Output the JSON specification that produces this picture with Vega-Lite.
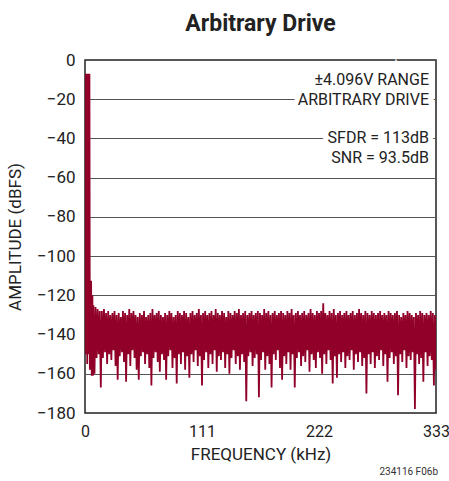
{
  "$schema": "https://vega.github.io/schema/vega-lite/v6.json",
  "width": 351,
  "height": 353,
  "autosize": "none",
  "padding": {"left": 85, "top": 60, "right": 13, "bottom": 68},
  "background": "white",
  "title": {
    "text": "Arbitrary Drive",
    "font": "Roboto",
    "fontSize": 23,
    "fontWeight": "bold",
    "color": "#222",
    "anchor": "middle",
    "offset": 15
  },
  "config": {
    "view": {"stroke": "#222", "strokeWidth": 1.5},
    "font": "Roboto"
  },
  "datasets": {
    "spec": [
      {"f": 0, "a": -7}, {"f": 0.7, "a": -150}, {"f": 1.4, "a": -7}, {"f": 2.1, "a": -155},
      {"f": 2.8, "a": -7}, {"f": 3.5, "a": -150}, {"f": 4.2, "a": -7}, {"f": 4.6, "a": -158},
      {"f": 5.3, "a": -113}, {"f": 5.8, "a": -113}, {"f": 6.4, "a": -161},
      {"f": 7, "a": -120}, {"f": 7.5, "a": -161},
      {"f": 8, "a": -125}, {"f": 9, "a": -160}, {"f": 10, "a": -126}, {"f": 11, "a": -152},
      {"f": 12, "a": -127}, {"f": 13, "a": -150}, {"f": 14, "a": -128}, {"f": 15, "a": -167},
      {"f": 16, "a": -128}, {"f": 17, "a": -152}, {"f": 18, "a": -127}, {"f": 19, "a": -149},
      {"f": 20, "a": -129}, {"f": 21, "a": -155}, {"f": 22, "a": -128}, {"f": 23, "a": -150},
      {"f": 24, "a": -130}, {"f": 25, "a": -153}, {"f": 26, "a": -129}, {"f": 27, "a": -148},
      {"f": 28, "a": -128}, {"f": 29, "a": -156}, {"f": 30, "a": -130}, {"f": 31, "a": -163},
      {"f": 32, "a": -129}, {"f": 33, "a": -151}, {"f": 34, "a": -131}, {"f": 35, "a": -149},
      {"f": 36, "a": -128}, {"f": 37, "a": -154}, {"f": 38, "a": -129}, {"f": 39, "a": -164},
      {"f": 40, "a": -130}, {"f": 41, "a": -150}, {"f": 42, "a": -127}, {"f": 43, "a": -156},
      {"f": 44, "a": -129}, {"f": 45, "a": -148}, {"f": 46, "a": -128}, {"f": 47, "a": -152},
      {"f": 48, "a": -130}, {"f": 49, "a": -158}, {"f": 50, "a": -131}, {"f": 51, "a": -163},
      {"f": 52, "a": -129}, {"f": 53, "a": -151}, {"f": 54, "a": -130}, {"f": 55, "a": -149},
      {"f": 56, "a": -128}, {"f": 57, "a": -155}, {"f": 58, "a": -131}, {"f": 59, "a": -150},
      {"f": 60, "a": -130}, {"f": 61, "a": -157}, {"f": 62, "a": -129}, {"f": 63, "a": -166},
      {"f": 64, "a": -127}, {"f": 65, "a": -152}, {"f": 66, "a": -130}, {"f": 67, "a": -149},
      {"f": 68, "a": -129}, {"f": 69, "a": -154}, {"f": 70, "a": -128}, {"f": 71, "a": -159},
      {"f": 72, "a": -130}, {"f": 73, "a": -150}, {"f": 74, "a": -131}, {"f": 75, "a": -153},
      {"f": 76, "a": -129}, {"f": 77, "a": -163}, {"f": 78, "a": -130}, {"f": 79, "a": -151},
      {"f": 80, "a": -128}, {"f": 81, "a": -148}, {"f": 82, "a": -129}, {"f": 83, "a": -157},
      {"f": 84, "a": -131}, {"f": 85, "a": -152}, {"f": 86, "a": -130}, {"f": 87, "a": -165},
      {"f": 88, "a": -128}, {"f": 89, "a": -150}, {"f": 90, "a": -129}, {"f": 91, "a": -155},
      {"f": 92, "a": -130}, {"f": 93, "a": -149}, {"f": 94, "a": -128}, {"f": 95, "a": -158},
      {"f": 96, "a": -129}, {"f": 97, "a": -151}, {"f": 98, "a": -131}, {"f": 99, "a": -162},
      {"f": 100, "a": -129}, {"f": 101, "a": -150}, {"f": 102, "a": -128}, {"f": 103, "a": -154},
      {"f": 104, "a": -130}, {"f": 105, "a": -148}, {"f": 106, "a": -129}, {"f": 107, "a": -156},
      {"f": 108, "a": -127}, {"f": 109, "a": -151}, {"f": 110, "a": -130}, {"f": 111, "a": -166},
      {"f": 112, "a": -129}, {"f": 113, "a": -153}, {"f": 114, "a": -128}, {"f": 115, "a": -149},
      {"f": 116, "a": -130}, {"f": 117, "a": -157}, {"f": 118, "a": -129}, {"f": 119, "a": -150},
      {"f": 120, "a": -128}, {"f": 121, "a": -155}, {"f": 122, "a": -130}, {"f": 123, "a": -148},
      {"f": 124, "a": -127}, {"f": 125, "a": -159}, {"f": 126, "a": -129}, {"f": 127, "a": -151},
      {"f": 128, "a": -130}, {"f": 129, "a": -153}, {"f": 130, "a": -128}, {"f": 131, "a": -149},
      {"f": 132, "a": -129}, {"f": 133, "a": -157}, {"f": 134, "a": -131}, {"f": 135, "a": -150},
      {"f": 136, "a": -128}, {"f": 137, "a": -160}, {"f": 138, "a": -129}, {"f": 139, "a": -152},
      {"f": 140, "a": -130}, {"f": 141, "a": -148}, {"f": 142, "a": -128}, {"f": 143, "a": -155},
      {"f": 144, "a": -129}, {"f": 145, "a": -151}, {"f": 146, "a": -127}, {"f": 147, "a": -158},
      {"f": 148, "a": -130}, {"f": 149, "a": -150}, {"f": 150, "a": -129}, {"f": 151, "a": -154},
      {"f": 152, "a": -128}, {"f": 153, "a": -174}, {"f": 154, "a": -130}, {"f": 155, "a": -151},
      {"f": 156, "a": -129}, {"f": 157, "a": -149}, {"f": 158, "a": -128}, {"f": 159, "a": -156},
      {"f": 160, "a": -130}, {"f": 161, "a": -152}, {"f": 162, "a": -129}, {"f": 163, "a": -150},
      {"f": 164, "a": -128}, {"f": 165, "a": -172}, {"f": 166, "a": -129}, {"f": 167, "a": -153},
      {"f": 168, "a": -130}, {"f": 169, "a": -149}, {"f": 170, "a": -127}, {"f": 171, "a": -158},
      {"f": 172, "a": -129}, {"f": 173, "a": -151}, {"f": 174, "a": -128}, {"f": 175, "a": -155},
      {"f": 176, "a": -130}, {"f": 177, "a": -167}, {"f": 178, "a": -129}, {"f": 179, "a": -150},
      {"f": 180, "a": -128}, {"f": 181, "a": -153}, {"f": 182, "a": -130}, {"f": 183, "a": -148},
      {"f": 184, "a": -129}, {"f": 185, "a": -157}, {"f": 186, "a": -128}, {"f": 187, "a": -163},
      {"f": 188, "a": -129}, {"f": 189, "a": -151}, {"f": 190, "a": -130}, {"f": 191, "a": -155},
      {"f": 192, "a": -128}, {"f": 193, "a": -149}, {"f": 194, "a": -129}, {"f": 195, "a": -158},
      {"f": 196, "a": -127}, {"f": 197, "a": -150}, {"f": 198, "a": -130}, {"f": 199, "a": -167},
      {"f": 200, "a": -129}, {"f": 201, "a": -152}, {"f": 202, "a": -128}, {"f": 203, "a": -149},
      {"f": 204, "a": -130}, {"f": 205, "a": -156}, {"f": 206, "a": -129}, {"f": 207, "a": -151},
      {"f": 208, "a": -128}, {"f": 209, "a": -154}, {"f": 210, "a": -130}, {"f": 211, "a": -148},
      {"f": 212, "a": -129}, {"f": 213, "a": -159}, {"f": 214, "a": -127}, {"f": 215, "a": -150},
      {"f": 216, "a": -129}, {"f": 217, "a": -153}, {"f": 218, "a": -130}, {"f": 219, "a": -157},
      {"f": 220, "a": -128}, {"f": 221, "a": -149}, {"f": 222, "a": -129}, {"f": 223, "a": -152},
      {"f": 224, "a": -128}, {"f": 225, "a": -160}, {"f": 226, "a": -124}, {"f": 227, "a": -150},
      {"f": 228, "a": -129}, {"f": 229, "a": -155}, {"f": 230, "a": -130}, {"f": 231, "a": -148},
      {"f": 232, "a": -128}, {"f": 233, "a": -153}, {"f": 234, "a": -129}, {"f": 235, "a": -165},
      {"f": 236, "a": -127}, {"f": 237, "a": -151}, {"f": 238, "a": -130}, {"f": 239, "a": -162},
      {"f": 240, "a": -129}, {"f": 241, "a": -150}, {"f": 242, "a": -128}, {"f": 243, "a": -154},
      {"f": 244, "a": -130}, {"f": 245, "a": -149}, {"f": 246, "a": -129}, {"f": 247, "a": -157},
      {"f": 248, "a": -128}, {"f": 249, "a": -151}, {"f": 250, "a": -130}, {"f": 251, "a": -153},
      {"f": 252, "a": -129}, {"f": 253, "a": -148}, {"f": 254, "a": -128}, {"f": 255, "a": -158},
      {"f": 256, "a": -130}, {"f": 257, "a": -150}, {"f": 258, "a": -129}, {"f": 259, "a": -154},
      {"f": 260, "a": -127}, {"f": 261, "a": -149}, {"f": 262, "a": -129}, {"f": 263, "a": -156},
      {"f": 264, "a": -130}, {"f": 265, "a": -152}, {"f": 266, "a": -128}, {"f": 267, "a": -170},
      {"f": 268, "a": -129}, {"f": 269, "a": -150}, {"f": 270, "a": -130}, {"f": 271, "a": -155},
      {"f": 272, "a": -128}, {"f": 273, "a": -149}, {"f": 274, "a": -129}, {"f": 275, "a": -157},
      {"f": 276, "a": -130}, {"f": 277, "a": -151}, {"f": 278, "a": -129}, {"f": 279, "a": -153},
      {"f": 280, "a": -128}, {"f": 281, "a": -148}, {"f": 282, "a": -130}, {"f": 283, "a": -156},
      {"f": 284, "a": -129}, {"f": 285, "a": -150}, {"f": 286, "a": -130}, {"f": 287, "a": -164},
      {"f": 288, "a": -128}, {"f": 289, "a": -152}, {"f": 290, "a": -129}, {"f": 291, "a": -149},
      {"f": 292, "a": -130}, {"f": 293, "a": -155}, {"f": 294, "a": -129}, {"f": 295, "a": -151},
      {"f": 296, "a": -128}, {"f": 297, "a": -171}, {"f": 298, "a": -130}, {"f": 299, "a": -150},
      {"f": 300, "a": -131}, {"f": 301, "a": -154}, {"f": 302, "a": -129}, {"f": 303, "a": -148},
      {"f": 304, "a": -130}, {"f": 305, "a": -157}, {"f": 306, "a": -128}, {"f": 307, "a": -151},
      {"f": 308, "a": -129}, {"f": 309, "a": -153}, {"f": 310, "a": -130}, {"f": 311, "a": -149},
      {"f": 312, "a": -131}, {"f": 313, "a": -178}, {"f": 314, "a": -129}, {"f": 315, "a": -150},
      {"f": 316, "a": -130}, {"f": 317, "a": -155}, {"f": 318, "a": -128}, {"f": 319, "a": -152},
      {"f": 320, "a": -129}, {"f": 321, "a": -164}, {"f": 322, "a": -130}, {"f": 323, "a": -149},
      {"f": 324, "a": -129}, {"f": 325, "a": -156}, {"f": 326, "a": -130}, {"f": 327, "a": -151},
      {"f": 328, "a": -128}, {"f": 329, "a": -153}, {"f": 330, "a": -129}, {"f": 331, "a": -166},
      {"f": 332, "a": -130}, {"f": 333, "a": -158}
    ],
    "notes": [
      {"label": "±4.096V RANGE", "y": -10.2},
      {"label": "ARBITRARY DRIVE", "y": -20.2},
      {"label": "SFDR = 113dB", "y": -40},
      {"label": "SNR = 93.5dB", "y": -49.8}
    ],
    "foot": [{"label": "234116 F06b"}]
  },
  "layer": [
    {
      "data": {"name": "spec"},
      "mark": {"type": "line", "color": "#900028", "strokeWidth": 1.8, "clip": true, "strokeJoin": "miter"},
      "encoding": {
        "x": {
          "field": "f", "type": "quantitative",
          "scale": {"domain": [0, 333], "nice": false, "zero": false},
          "axis": {
            "values": [0, 111, 222, 333],
            "tickCount": 10,
            "title": "FREQUENCY (kHz)",
            "grid": false, "ticks": false, "domain": false,
            "labelFontSize": 16, "labelColor": "#222", "labelPadding": 10,
            "labelOverlap": false, "labelFlush": false, "labelBound": false,
            "titleFontSize": 17, "titleFontWeight": "normal", "titleColor": "#222", "titlePadding": 7
          }
        },
        "y": {
          "field": "a", "type": "quantitative",
          "scale": {"domain": [-180, 0], "nice": false, "zero": false},
          "axis": {
            "values": [-180, -160, -140, -120, -100, -80, -60, -40, -20, 0],
            "tickCount": 20,
            "title": "AMPLITUDE (dBFS)",
            "grid": true, "gridColor": "#555", "gridWidth": 1, "gridOpacity": 1,
            "ticks": false, "domain": false,
            "labelOverlap": false, "labelFlush": false,
            "labelFontSize": 17, "labelColor": "#222", "labelPadding": 10,
            "titleFontSize": 17, "titleFontWeight": "normal", "titleColor": "#222", "titlePadding": 12
          }
        }
      }
    },
    {
      "data": {"name": "notes"},
      "mark": {"type": "text", "align": "right", "baseline": "middle", "dx": -7, "fontSize": 16, "fill": "white", "stroke": "white", "strokeWidth": 10},
      "encoding": {
        "x": {"datum": 333, "type": "quantitative"},
        "y": {"field": "y", "type": "quantitative"},
        "text": {"field": "label"}
      }
    },
    {
      "data": {"name": "notes"},
      "mark": {"type": "text", "align": "right", "baseline": "middle", "dx": -7, "fontSize": 16, "color": "#222"},
      "encoding": {
        "x": {"datum": 333, "type": "quantitative"},
        "y": {"field": "y", "type": "quantitative"},
        "text": {"field": "label"}
      }
    },
    {
      "data": {"name": "foot"},
      "mark": {"type": "text", "align": "right", "baseline": "bottom", "dx": 2, "dy": 64, "fontSize": 10, "color": "#333"},
      "encoding": {
        "x": {"datum": 333, "type": "quantitative"},
        "y": {"datum": -180, "type": "quantitative"},
        "text": {"field": "label"}
      }
    }
  ]
}
